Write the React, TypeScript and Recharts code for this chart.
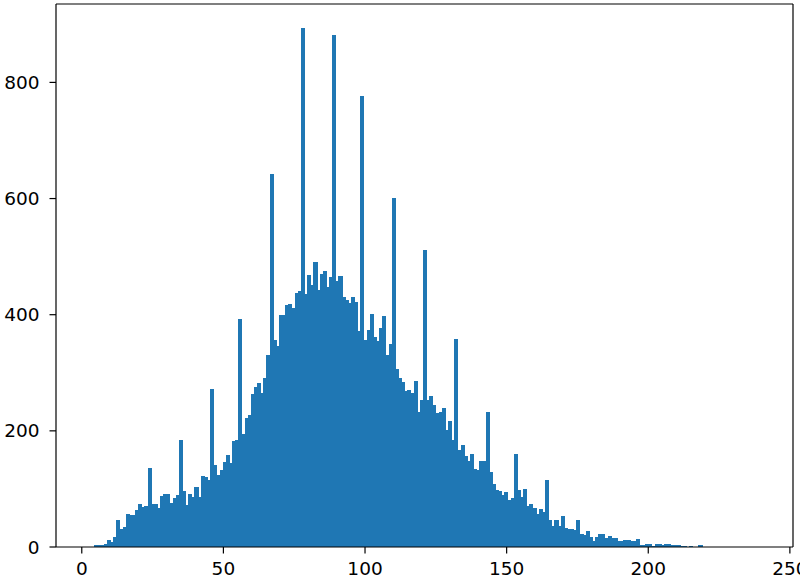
import { BarChart, Bar, XAxis, YAxis, ReferenceLine } from 'recharts'

// histogram: 214 bins, start/width
const BIN_START = 2.4
const BIN_WIDTH = 1.105

// counts per bin, left to right
const counts: number[] = [
  0, 0, 2, 3, 3, 4, 11, 8, 17, 46,
  30, 34, 56, 54, 54, 63, 74, 68, 70, 135,
  74, 74, 66, 87, 91, 91, 75, 84, 89, 183,
  95, 71, 90, 85, 103, 86, 122, 119, 115, 271,
  141, 123, 132, 145, 157, 144, 181, 184, 391, 194,
  221, 226, 263, 275, 282, 264, 290, 330, 642, 356,
  345, 399, 399, 415, 418, 411, 437, 440, 893, 434,
  468, 451, 490, 441, 470, 474, 447, 464, 880, 457,
  466, 429, 425, 419, 430, 421, 371, 776, 356, 373,
  400, 361, 353, 377, 397, 330, 349, 600, 305, 290,
  284, 268, 269, 265, 285, 231, 253, 510, 253, 259,
  243, 230, 231, 239, 201, 216, 184, 357, 166, 175,
  156, 147, 159, 133, 132, 148, 148, 232, 128, 108,
  98, 95, 88, 93, 80, 84, 160, 98, 85, 99,
  69, 74, 66, 56, 64, 59, 115, 46, 36, 46,
  36, 52, 32, 30, 30, 29, 46, 21, 19, 26,
  16, 9, 17, 22, 21, 14, 18, 15, 15, 10,
  10, 11, 11, 10, 10, 13, 3, 3, 4, 4,
  1, 4, 4, 2, 5, 5, 3, 3, 2, 1,
  1, 0, 1, 0, 0, 3, 0, 0, 0, 0,
  0, 0, 0, 0, 0, 0, 0, 0, 0, 0,
  0, 0, 0, 0,
]

const xTicks = [0, 50, 100, 150, 200, 250]
const yTicks = [0, 200, 400, 600, 800]
const xDomain: [number, number] = [-9.1, 251.1]
const yDomain: [number, number] = [0, 935]

const data = counts.map((count, i) => ({ x: BIN_START + (i + 0.5) * BIN_WIDTH, count }))

const W = 800
const H = 580
const margin = { top: 4, right: 7, bottom: 0, left: 0 }
const Y_AXIS_W = 56
const X_AXIS_H = 33

// bin width in px, a hair under the band so recharts doesn't shrink it
const plotW = W - margin.left - margin.right - Y_AXIS_W
const binPx = (BIN_WIDTH * plotW) / (xDomain[1] - xDomain[0]) * 0.995

const BLUE = '#1f77b4'
const tickStyle = { fontSize: 18.5, fill: '#000', fontFamily: '"DejaVu Sans", sans-serif' }
const axisLine = { stroke: '#000', strokeWidth: 1.2 }

export default function App() {
  return (
    <div style={{ position: 'absolute', left: 0, top: 0 }}>
      <BarChart
        width={W}
        height={H}
        data={data}
        margin={margin}
        barCategoryGap={0}
        barGap={0}
      >
        <XAxis
          dataKey="x"
          type="number"
          domain={xDomain}
          ticks={xTicks}
          interval={0}
          height={X_AXIS_H}
          tick={tickStyle}
          tickSize={6.5}
          tickMargin={8}
          tickLine={axisLine}
          axisLine={axisLine}
          allowDataOverflow
        />
        <YAxis
          type="number"
          domain={yDomain}
          ticks={yTicks}
          interval={0}
          width={Y_AXIS_W}
          tick={tickStyle}
          tickSize={6.5}
          tickMargin={10}
          tickLine={axisLine}
          axisLine={axisLine}
          allowDataOverflow
        />
        {/* stroke in the fill colour + crisp edges hide the seams between bins */}
        <Bar
          dataKey="count"
          fill={BLUE}
          stroke={BLUE}
          strokeWidth={1}
          shapeRendering="crispEdges"
          barSize={binPx}
          isAnimationActive={false}
        />
        {/* top and right spines */}
        <ReferenceLine y={yDomain[1]} stroke="#000" strokeWidth={1.2} />
        <ReferenceLine x={xDomain[1]} stroke="#000" strokeWidth={1.2} />
      </BarChart>
    </div>
  )
}
